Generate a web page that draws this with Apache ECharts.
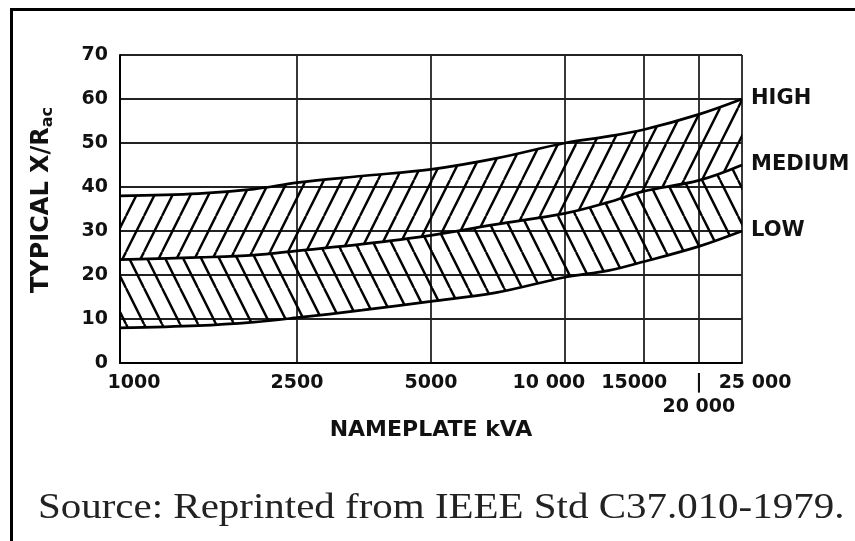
<!DOCTYPE html>
<html><head><meta charset="utf-8">
<script src="https://cdn.jsdelivr.net/npm/echarts@6/dist/echarts.min.js"></script>
<style>html,body{margin:0;padding:0;background:#fff}#c{width:855px;height:541px}</style>
</head><body><div id="c"></div>
<script>
// ---- data ----
const kva        = [1000, 1500, 2000, 2500, 3500, 5000, 7000, 10000, 12500, 15000, 20000, 25000];
const highCurve  = [38, 38.5, 39.5, 41, 42.5, 44, 46.5, 50, 51.5, 53, 56.5, 60];
const mediumCurve= [23.5, 24, 24.5, 25.5, 27, 29, 31.5, 34, 36.5, 39, 41.5, 45];
const lowCurve   = [8, 8.5, 9.3, 10.3, 12, 14, 16, 19.5, 21, 23, 26.5, 30];
const bandNames  = ['LOW', 'MEDIUM', 'HIGH'];
const xTickValues = [1000, 2500, 5000, 10000, 15000, 20000, 25000];
const xTickLabels = ['1000', '2500', '5000', '10 000', '15000', '20 000', '25 000'];
const xSecondRowValues = [20000];   // label printed on a second row in the original
const yMin = 0, yMax = 70, yStep = 10;
const xTitle = 'NAMEPLATE kVA';
const yTitleMain = 'TYPICAL X/R', yTitleSub = 'ac';
const sourceText = 'Source: Reprinted from IEEE Std C37.010-1979.';

// ---- hatch patterns ----
function hatch(dir) {
  const w = 18, h = 36;
  const c = document.createElement('canvas');
  c.width = w; c.height = h;
  const ctx = c.getContext('2d');
  ctx.strokeStyle = '#000';
  ctx.lineWidth = 2.4;
  for (const dx of [-w, 0, w]) {
    ctx.beginPath();
    if (dir === '/') { ctx.moveTo(dx, h); ctx.lineTo(dx + w, 0); }
    else { ctx.moveTo(dx, 0); ctx.lineTo(dx + w, h); }
    ctx.stroke();
  }
  return c;
}
const hatchFwd = hatch('/');
const hatchBack = hatch('\\');

// stacked layers (value first, kVA second; encode swaps them)
const lowLayer = kva.map((k, i) => [lowCurve[i], k]);
const midLayer = kva.map((k, i) => [mediumCurve[i] - lowCurve[i], k]);
const highLayer = kva.map((k, i) => [highCurve[i] - mediumCurve[i], k]);

const labelFont = 'DejaVu Sans';
const shiftStyles = {1000: 'sr', 10000: 'sl', 15000: 'sl2', 25000: 'sr2'};
const baseRich = {fontFamily: labelFont, fontSize: 19, fontWeight: 'bold', lineHeight: 24, color: '#111'};
const labelFor = (v) => {
  const i = xTickValues.findIndex(t => Math.abs(t - v) < 1e-6 * t);
  return i >= 0 ? {val: xTickValues[i], txt: xTickLabels[i]} : {val: v, txt: ''};
};

const chart = echarts.init(document.getElementById('c'), null, {renderer: 'canvas'});
const curveLine = {color: '#000', width: 2.7};
function mkSeries(name, data, area) {
  return {
    name, type: 'line', data, stack: 'bands', encode: {x: 1, y: 0},
    smooth: 0.35, symbol: 'none', lineStyle: curveLine,
    areaStyle: area ? {color: {image: area, repeat: 'repeat'}, opacity: 1} : {opacity: 0},
    endLabel: {show: true, formatter: name, distance: 9, color: '#111',
      fontFamily: labelFont, fontSize: 21, fontWeight: 'bold'},
    emphasis: {disabled: true}, z: 3
  };
}
chart.setOption({
  animation: false,
  backgroundColor: '#fff',
  grid: {left: 120, top: 55, right: 113, bottom: 178},
  xAxis: [{
    type: 'log', logBase: 10, min: 1000, max: 25000,
    axisLine: {show: true, lineStyle: {color: '#000', width: 2}},
    axisTick: {show: false, customValues: xTickValues},
    splitLine: {show: true, lineStyle: {color: '#222', width: 1.8}},
    axisLabel: {
      customValues: xTickValues.filter(v => !xSecondRowValues.includes(v)), margin: 8, color: '#111',
      showMinLabel: true, showMaxLabel: true, hideOverlap: false,
      fontFamily: labelFont, fontSize: 19, fontWeight: 'bold', lineHeight: 24,
      formatter: (v) => {
        const l = labelFor(v);
        return '{' + (shiftStyles[l.val] || 'm') + '|' + l.txt + '}';
      },
      rich: {
        m: Object.assign({}, baseRich),
        sr: Object.assign({padding: [0, 0, 0, 28]}, baseRich),
        sr2: Object.assign({padding: [0, 0, 0, 26]}, baseRich),
        sl: Object.assign({padding: [0, 32, 0, 0]}, baseRich),
        sl2: Object.assign({padding: [0, 18, 0, 0]}, baseRich)
      }
    },
    name: xTitle, nameLocation: 'middle', nameGap: 56,
    nameTextStyle: {fontFamily: labelFont, fontSize: 22, fontWeight: 'bold', color: '#111'}
  }, {
    type: 'log', logBase: 10, min: 1000, max: 25000, position: 'bottom', gridIndex: 0,
    axisLine: {show: false}, axisTick: {show: false}, splitLine: {show: false},
    axisLabel: {
      customValues: xSecondRowValues, margin: 8, color: '#111',
      showMinLabel: true, showMaxLabel: true,
      fontFamily: labelFont, fontSize: 19, fontWeight: 'bold', lineHeight: 24,
      formatter: (v) => '{m||}\n{m|' + labelFor(v).txt + '}',
      rich: {m: Object.assign({}, baseRich)}
    }
  }],
  yAxis: {
    type: 'value', min: yMin, max: yMax, interval: yStep,
    axisLine: {show: true, lineStyle: {color: '#000', width: 2}},
    axisTick: {show: false},
    splitLine: {show: true, lineStyle: {color: '#222', width: 1.8}},
    axisLabel: {margin: 12, color: '#111', fontFamily: labelFont, fontSize: 19, fontWeight: 'bold'},
    name: '{a|' + yTitleMain + '}{s|' + yTitleSub + '}', nameLocation: 'middle', nameGap: 64, nameRotate: 90,
    nameTextStyle: {
      padding: [0, 0, 0, 18],
      rich: {
        a: {fontFamily: labelFont, fontSize: 24, fontWeight: 'bold', color: '#111'},
        s: {fontFamily: labelFont, fontSize: 16, fontWeight: 'bold', color: '#111', padding: [12, 0, 0, 0]}
      }
    }
  },
  series: [
    mkSeries(bandNames[0], lowLayer, null),
    mkSeries(bandNames[1], midLayer, hatchBack),
    mkSeries(bandNames[2], highLayer, hatchFwd)
  ],
  graphic: [
    {type: 'rect', shape: {x: 10, y: 8, width: 845, height: 3}, style: {fill: '#000'}, silent: true},
    {type: 'rect', shape: {x: 10, y: 8, width: 3, height: 533}, style: {fill: '#000'}, silent: true},
    {type: 'text', x: 38, y: 491, scaleX: 1.17, silent: true,
      style: {text: sourceText, font: '35px "Liberation Serif"', fill: '#222', verticalAlign: 'top', align: 'left'}}
  ]
});
</script></body></html>
